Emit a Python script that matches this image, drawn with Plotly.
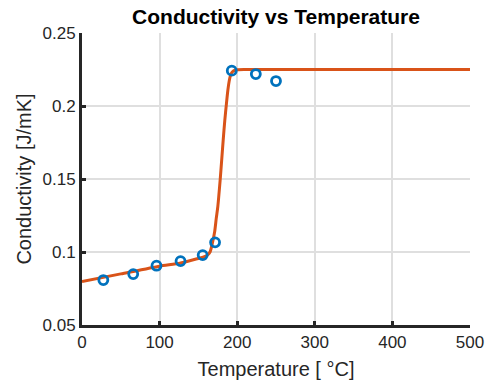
import plotly.graph_objects as go

# measured data points
temp_meas = [27.5, 66, 96, 127, 155.5, 171.5, 193, 224, 250]
cond_meas = [0.0808, 0.0849, 0.0906, 0.0938, 0.0979, 0.1066, 0.2242, 0.2219, 0.2171]

# fitted curve
temp_fit = [0, 50, 100, 126, 146, 156, 162, 165, 168, 171, 173, 175, 178, 180, 182, 184, 186, 188, 190, 192, 195, 200, 210, 250, 300, 400, 500]
cond_fit = [0.0797, 0.0850, 0.0903, 0.0923, 0.0950, 0.0964, 0.0980, 0.1000, 0.1060, 0.1140, 0.1230, 0.1310, 0.1490, 0.1630, 0.1770, 0.1900, 0.2010, 0.2110, 0.2180, 0.2220, 0.2240, 0.2248, 0.2250, 0.2250, 0.2250, 0.2250, 0.2250]

x_ticks = [0, 100, 200, 300, 400, 500]
y_ticks = [0.05, 0.1, 0.15, 0.2, 0.25]
y_labels = ["0.05", "0.1", "0.15", "0.2", "0.25"]

fig = go.Figure()
fig.add_trace(go.Scatter(x=temp_fit, y=cond_fit, mode="lines",
                         line=dict(color="#D95319", width=3, shape="spline", smoothing=0.6),
                         showlegend=False))
fig.add_trace(go.Scatter(x=temp_meas, y=cond_meas, mode="markers",
                         marker=dict(symbol="circle-open", size=9, color="#0072BD",
                                     line=dict(width=2.8, color="#0072BD")),
                         showlegend=False))

font = "Liberation Sans, Arial, sans-serif"
fig.update_layout(
    width=485, height=387,
    margin=dict(l=82, r=15, t=33, b=62),
    paper_bgcolor="white", plot_bgcolor="white",
    font=dict(family=font, size=17, color="#262626"),
    title=dict(text="<b>Conductivity vs Temperature</b>", x=0.5, xanchor="center", xref="paper",
               y=1 - 17 / 387, yanchor="middle", font=dict(size=21, color="black")),
)
fig.update_xaxes(range=[0, 500], tickvals=x_ticks, showgrid=True, gridcolor="#DFDFDF", gridwidth=2,
                 showline=True, linecolor="#262626", linewidth=3, ticks="inside", ticklen=4,
                 tickwidth=3, tickcolor="#262626", zeroline=False, automargin=False,
                 title=dict(text="Temperature [ °C]", font=dict(size=20), standoff=11),
                 tickfont=dict(size=17))
fig.update_yaxes(range=[0.05, 0.25], tickvals=y_ticks, ticktext=y_labels, showgrid=True,
                 gridcolor="#DFDFDF", gridwidth=2, automargin=False,
                 showline=True, linecolor="#262626", linewidth=3, ticks="inside", ticklen=4,
                 tickwidth=3, tickcolor="#262626", zeroline=False,
                 title=dict(text="Conductivity [J/mK]", font=dict(size=20), standoff=6),
                 tickfont=dict(size=17))

fig.write_html("out.html", config={"displayModeBar": False},
               post_script="document.body.style.margin='0';document.body.style.overflow='hidden';")
